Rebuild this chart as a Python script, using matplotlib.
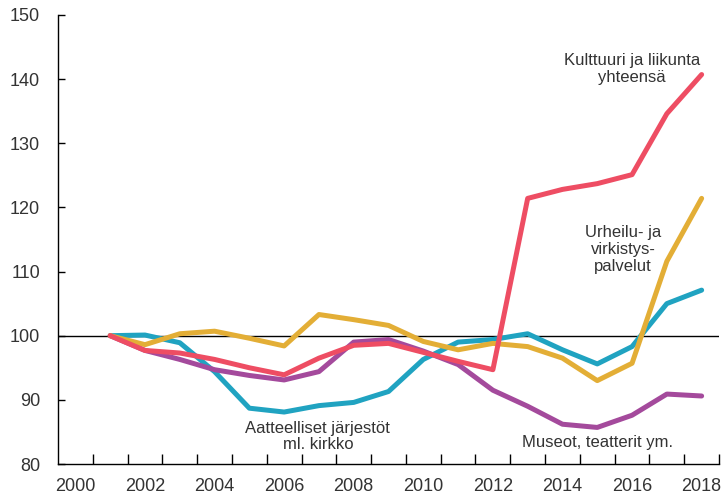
import matplotlib
matplotlib.use('Agg')
import matplotlib.pyplot as plt
import numpy as np

years = list(range(2001, 2019))

kulttuuri = [100, 97.7, 97.3, 96.3, 95.0, 93.9, 96.5, 98.5, 98.8, 97.4, 96.0, 94.7,
             121.4, 122.8, 123.7, 125.1, 134.6, 140.7]
urheilu = [100, 98.6, 100.3, 100.7, 99.6, 98.4, 103.3, 102.5, 101.6, 99.1, 97.8, 98.8,
           98.3, 96.5, 93.0, 95.7, 111.6, 121.4]
aatteelliset = [100, 100.1, 98.9, 94.4, 88.7, 88.1, 89.1, 89.6, 91.3, 96.3, 99.0, 99.4,
                100.3, 97.8, 95.6, 98.3, 105.0, 107.1]
museot = [100, 97.7, 96.3, 94.7, 93.8, 93.1, 94.4, 99.0, 99.4, 97.6, 95.5, 91.5,
          89.0, 86.2, 85.7, 87.6, 90.9, 90.6]

yticks = [80, 90, 100, 110, 120, 130, 140, 150]
xlabels = [2000, 2002, 2004, 2006, 2008, 2010, 2012, 2014, 2016, 2018]

RED = '#EE4D63'
YELLOW = '#E3AE36'
TEAL = '#20A3C1'
PURPLE = '#A44A9C'
TXT = '#333333'

plt.rcParams['font.family'] = ['Liberation Sans', 'DejaVu Sans']

fig = plt.figure(figsize=(7.26, 4.96), dpi=100)
ax = fig.add_axes([0.0799, 0.0645, 0.9105, 0.9055])

ax.axhline(100, color='black', lw=1.0, zorder=1)

lw = 3.6
ax.plot(years, aatteelliset, color=TEAL, lw=lw, solid_capstyle='round', zorder=2)
ax.plot(years, museot, color=PURPLE, lw=lw, solid_capstyle='round', zorder=3)
ax.plot(years, urheilu, color=YELLOW, lw=lw, solid_capstyle='round', zorder=4)
ax.plot(years, kulttuuri, color=RED, lw=lw, solid_capstyle='round', zorder=5)

ax.set_xlim(1999.5, 2018.5)
ax.set_ylim(80, 150)

ax.set_yticks(yticks)
ax.set_yticklabels([str(v) for v in yticks])
ax.set_xticks(xlabels)
ax.set_xticklabels([str(v) for v in xlabels])
ax.set_xticks(np.arange(2000.5, 2019, 1.0), minor=True)

ax.tick_params(axis='y', direction='in', length=5, width=1, pad=13, labelsize=13, colors=TXT)
ax.tick_params(axis='y', color='black')
ax.tick_params(axis='x', which='major', length=0, pad=10, labelsize=13, colors=TXT)
ax.tick_params(axis='x', which='minor', direction='in', length=7, width=1, color='black')

for s in ['top', 'right']:
    ax.spines[s].set_visible(False)
ax.spines['left'].set_linewidth(1)
ax.spines['bottom'].set_linewidth(1)

fs = 12
ax.text(2016.0, 141.6, 'Kulttuuri ja liikunta\nyhteensä', ha='center', va='center',
        fontsize=fs, color=TXT, linespacing=1.15)
ax.text(2015.74, 113.4, 'Urheilu- ja\nvirkistys-\npalvelut', ha='center', va='center',
        fontsize=fs, color=TXT, linespacing=1.15)
ax.text(2006.97, 84.3, 'Aatteelliset järjestöt\nml. kirkko', ha='center', va='center',
        fontsize=fs, color=TXT, linespacing=1.15)
ax.text(2015.0, 83.3, 'Museot, teatterit ym.', ha='center', va='center',
        fontsize=fs, color=TXT)

fig.savefig('out.png', dpi=100)
